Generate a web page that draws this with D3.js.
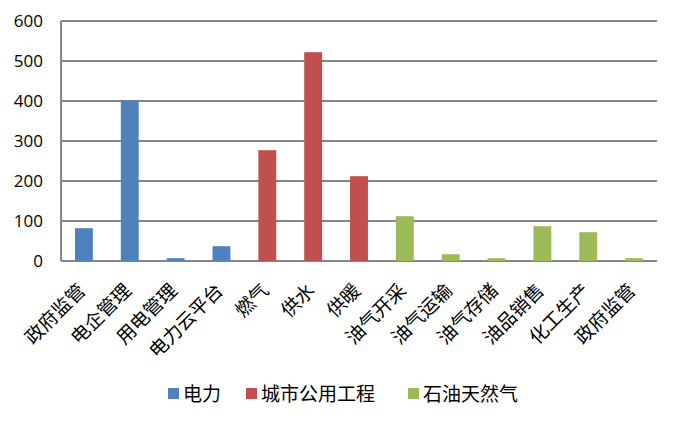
<!DOCTYPE html>
<html>
<head>
<meta charset="utf-8">
<script src="https://cdn.jsdelivr.net/npm/d3@7"></script>
<style>
  body { margin: 0; background: #fff; }
  svg { display: block; }
</style>
</head>
<body>
<div id="chart"></div>
<script>
// categories along the x axis (政府监管 appears twice, so keep an index key)
const categories = ["政府监管", "电企管理", "用电管理", "电力云平台", "燃气", "供水", "供暖",
  "油气开采", "油气运输", "油气存储", "油品销售", "化工生产", "政府监管"];
// which series each category belongs to
const groups = ["电力", "电力", "电力", "电力", "城市公用工程", "城市公用工程", "城市公用工程",
  "石油天然气", "石油天然气", "石油天然气", "石油天然气", "石油天然气", "石油天然气"];
const values = [82, 401, 7, 37, 277, 522, 212, 112, 17, 7, 87, 72, 7];
const seriesNames = ["电力", "城市公用工程", "石油天然气"];
const seriesColors = ["#4F81BD", "#C0504D", "#9BBB59"];
const yTicks = [0, 100, 200, 300, 400, 500, 600];

const width = 678, height = 424;
const plotLeft = 61, plotRight = 657, plotTop = 21, plotBottom = 261;

const rows = categories.map((c, i) => ({ key: i, name: c, group: groups[i], value: values[i] }));

const svg = d3.select("#chart").append("svg")
  .attr("width", width)
  .attr("height", height);

const x = d3.scaleBand()
  .domain(rows.map(d => d.key))
  .range([plotLeft, plotRight])
  .paddingInner(0.61)
  .paddingOuter(0.305);

const y = d3.scaleLinear()
  .domain([0, 600])
  .range([plotBottom, plotTop]);

const color = d3.scaleOrdinal()
  .domain(seriesNames)
  .range(seriesColors);

// grid lines
svg.append("g")
  .selectAll("line")
  .data(yTicks)
  .join("line")
  .attr("x1", plotLeft)
  .attr("x2", plotRight)
  .attr("y1", d => y(d))
  .attr("y2", d => y(d))
  .attr("stroke", "#868686")
  .attr("stroke-width", 2);

// y axis line
svg.append("line")
  .attr("x1", plotLeft).attr("x2", plotLeft)
  .attr("y1", plotTop).attr("y2", plotBottom)
  .attr("stroke", "#868686")
  .attr("stroke-width", 2);

// y tick labels
svg.append("g")
  .selectAll("text")
  .data(yTicks)
  .join("text")
  .attr("x", 43)
  .attr("y", d => y(d))
  .attr("dy", "0.36em")
  .attr("text-anchor", "end")
  .attr("font-family", "'Open Sans', 'Liberation Sans', sans-serif")
  .attr("font-size", "17px")
  .attr("fill", "#000")
  .text(d => d);

// bars
svg.append("g")
  .selectAll("rect")
  .data(rows)
  .join("rect")
  .attr("x", d => x(d.key))
  .attr("width", x.bandwidth())
  .attr("y", d => y(d.value))
  .attr("height", d => y(0) - y(d.value))
  .attr("fill", d => color(d.group));

// x labels, rotated
svg.append("g")
  .selectAll("text")
  .data(rows)
  .join("text")
  .attr("transform", d => `translate(${x(d.key) + x.bandwidth() / 2 - 2},${plotBottom + 26}) rotate(-45)`)
  .attr("text-anchor", "end")
  .attr("dy", "0.35em")
  .attr("font-family", "'Noto Sans CJK SC', sans-serif")
  .attr("font-size", "19px")
  .attr("fill", "#000")
  .text(d => d.name);

// legend
const legendX = [168, 246, 408];
const legend = svg.append("g")
  .selectAll("g")
  .data(seriesNames)
  .join("g")
  .attr("transform", (d, i) => `translate(${legendX[i]},394)`);

legend.append("rect")
  .attr("x", 0).attr("y", -6)
  .attr("width", 11).attr("height", 11)
  .attr("fill", d => color(d));

legend.append("text")
  .attr("x", 15)
  .attr("dy", "0.36em")
  .attr("font-family", "'Noto Sans CJK SC', sans-serif")
  .attr("font-size", "19px")
  .attr("fill", "#000")
  .text(d => d);
</script>
</body>
</html>
